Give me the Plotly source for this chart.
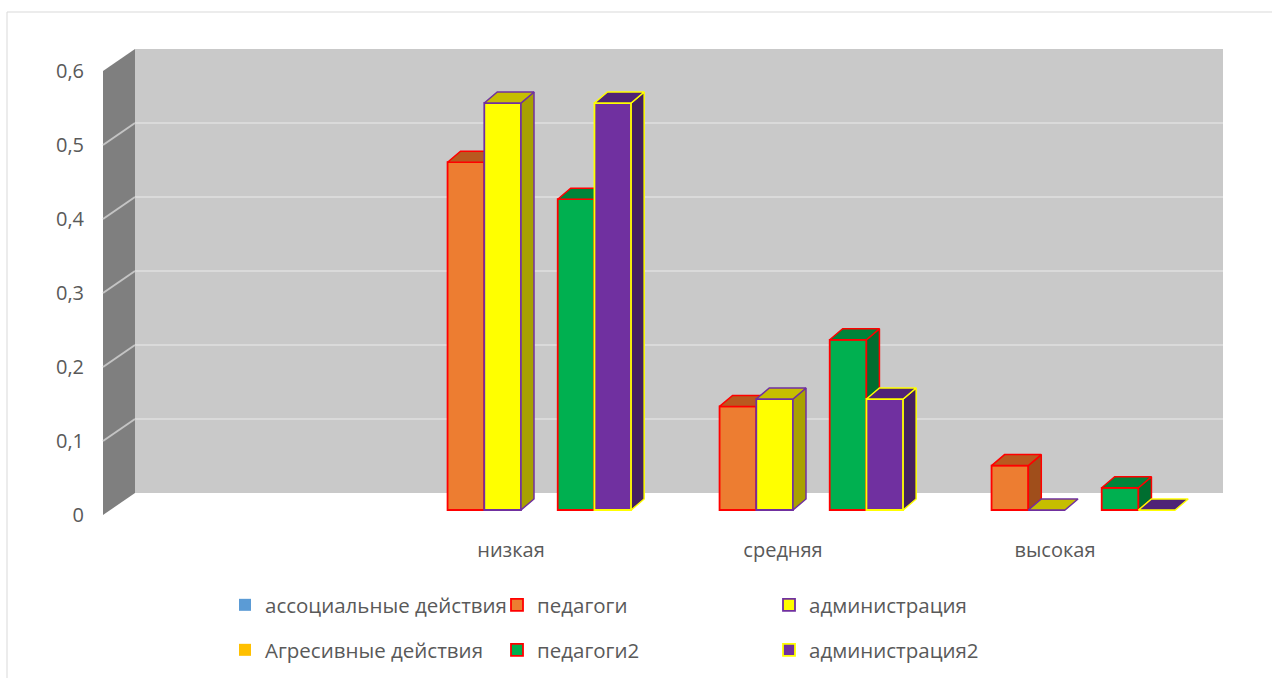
import plotly.graph_objects as go

# ---- data -------------------------------------------------------------
categories = ["", "низкая", "средняя", "высокая"]
series_names = ["ассоциальные действия", "педагоги", "администрация",
                "Агресивные действия", "педагоги2", "администрация2"]
asocial = [None, None, None, None]
pedagogi = [None, 0.47, 0.14, 0.06]
administration = [None, 0.55, 0.15, 0.0]
aggressive = [None, None, None, None]
pedagogi2 = [None, 0.42, 0.23, 0.03]
administration2 = [None, 0.55, 0.15, 0.0]
y_ticks = [0, 0.1, 0.2, 0.3, 0.4, 0.5, 0.6]

series_values = [asocial, pedagogi, administration,
                 aggressive, pedagogi2, administration2]

# fill, edge, top face, side face
styles = [
    ("#5B9BD5", None, None, None),
    ("#ED7D31", "#FF0000", "#B9591F", "#A04E1B"),
    ("#FFFF00", "#7030A0", "#C6BE00", "#A8A100"),
    ("#FFC000", None, None, None),
    ("#00B050", "#FF0000", "#00843A", "#006E30"),
    ("#7030A0", "#FFFF00", "#4F2376", "#45205F"),
]

# ---- geometry of the pseudo-3D box (pixels) ---------------------------
W, H = 1272, 678
XPU = 272          # px per category
YPU = 740          # px per value unit
BAR_X0 = 113       # px of the left edge of the bar plane
BAR_Y0 = 510       # px of value 0 in the bar plane
FRONT = (-10, 5)   # front plane offset from the bar plane
BACK = (22, -17)   # back wall offset from the bar plane
DEPTH = (13, -11)  # bar depth offset
SLOT = 0.135       # bar width in category units
YMAX = 0.6
N = len(categories)

TEXT = "#595959"
FONT = "Open Sans"


def shift(x, y, d):
    return x + d[0] / XPU, y - d[1] / YPU


x_range = [-0.5 - BAR_X0 / XPU, -0.5 + (W - BAR_X0) / XPU]
y_range = [-(H - BAR_Y0) / YPU, BAR_Y0 / YPU]

fig = go.Figure()

# ---- walls ------------------------------------------------------------
shapes = []
left, right = -0.5, N - 0.5


def path(pts):
    return "M" + "L".join(f"{px},{py}" for px, py in pts) + "Z"


bw = [shift(left, 0, BACK), shift(right, 0, BACK),
      shift(right, YMAX, BACK), shift(left, YMAX, BACK)]
shapes.append(dict(type="path", path=path(bw), xref="x", yref="y",
                   fillcolor="#C9C9C9", line=dict(width=0), layer="below"))
sw = [shift(left, 0, FRONT), shift(left, 0, BACK),
      shift(left, YMAX, BACK), shift(left, YMAX, FRONT)]
shapes.append(dict(type="path", path=path(sw), xref="x", yref="y",
                   fillcolor="#7F7F7F", line=dict(width=0), layer="below"))
for v in y_ticks[1:-1]:
    x0, y0 = shift(left, v, BACK)
    x1, y1 = shift(right, v, BACK)
    shapes.append(dict(type="line", x0=x0, y0=y0, x1=x1, y1=y1,
                       xref="x", yref="y", layer="below",
                       line=dict(color="#DADADA", width=2)))
    fx, fy = shift(left, v, FRONT)
    shapes.append(dict(type="line", x0=fx, y0=fy, x1=x0, y1=y0,
                       xref="x", yref="y", layer="below",
                       line=dict(color="#C4C4C4", width=2)))
# chart frame
shapes.append(dict(type="rect", xref="paper", yref="paper",
                   x0=7 / W, x1=1.05, y0=-0.05, y1=1 - 12 / H,
                   line=dict(color="#D9D9D9", width=1), layer="below"))

# ---- bars -------------------------------------------------------------
for k, (name, vals, st) in enumerate(zip(series_names, series_values, styles)):
    fill, edge, top_c, side_c = st
    offset = -3 * SLOT + k * SLOT
    fig.add_trace(go.Bar(
        x=list(range(N)), y=vals,
        width=SLOT, offset=offset, name=name, zorder=2 * k,
        marker=dict(color=fill,
                    line=dict(color=edge or fill, width=1.8 if edge else 0)),
        legend="legend" if k < 3 else "legend2",
        hoverinfo="skip",
    ))
    if top_c is None:
        continue
    tx, ty, sx, sy = [], [], [], []
    for i, v in enumerate(vals):
        if v is None:
            continue
        x0 = i + offset
        x1 = x0 + SLOT
        top = [(x0, v), (x1, v), shift(x1, v, DEPTH), shift(x0, v, DEPTH), (x0, v)]
        tx += [p[0] for p in top] + [None]
        ty += [p[1] for p in top] + [None]
        if v > 0:
            side = [(x1, 0), shift(x1, 0, DEPTH), shift(x1, v, DEPTH), (x1, v), (x1, 0)]
            sx += [p[0] for p in side] + [None]
            sy += [p[1] for p in side] + [None]
    fig.add_trace(go.Scatter(x=sx, y=sy, mode="lines", fill="toself",
                             fillcolor=side_c, line=dict(color=edge, width=1.5),
                             showlegend=False, hoverinfo="skip", zorder=2 * k + 1))
    fig.add_trace(go.Scatter(x=tx, y=ty, mode="lines", fill="toself",
                             fillcolor=top_c, line=dict(color=edge, width=1.5),
                             showlegend=False, hoverinfo="skip", zorder=2 * k + 1))

# ---- axes & legends ---------------------------------------------------
front_dy = FRONT[1] / YPU
front_dx = FRONT[0] / XPU
legend_style = dict(orientation="h", x=225 / W, yanchor="middle",
                    xanchor="left", entrywidth=227, entrywidthmode="pixels",
                    font=dict(family=FONT, size=20.5, color=TEXT),
                    bgcolor="rgba(0,0,0,0)")
fig.update_layout(
    width=W, height=H,
    margin=dict(l=0, r=0, t=0, b=0),
    paper_bgcolor="white", plot_bgcolor="white",
    shapes=shapes,
    barmode="overlay",
    font=dict(family=FONT, size=20, color=TEXT),
    xaxis=dict(domain=[0, 1], range=x_range, anchor="free",
               position=1 - 536 / H,
               tickvals=[i + front_dx for i in range(N)], ticktext=categories,
               showgrid=False, zeroline=False, showline=False, ticks="",
               tickfont=dict(family=FONT, size=20, color=TEXT)),
    yaxis=dict(domain=[0, 1], range=y_range, anchor="free",
               position=84 / W,
               tickvals=[v - front_dy for v in y_ticks],
               ticktext=[f"{v:g}".replace(".", ",") for v in y_ticks],
               showgrid=False, zeroline=False, showline=False, ticks="",
               tickfont=dict(family=FONT, size=20, color=TEXT)),
    legend=dict(legend_style, y=1 - 605 / H),
    legend2=dict(legend_style, y=1 - 650 / H),
)

fig.write_html("out.html")
